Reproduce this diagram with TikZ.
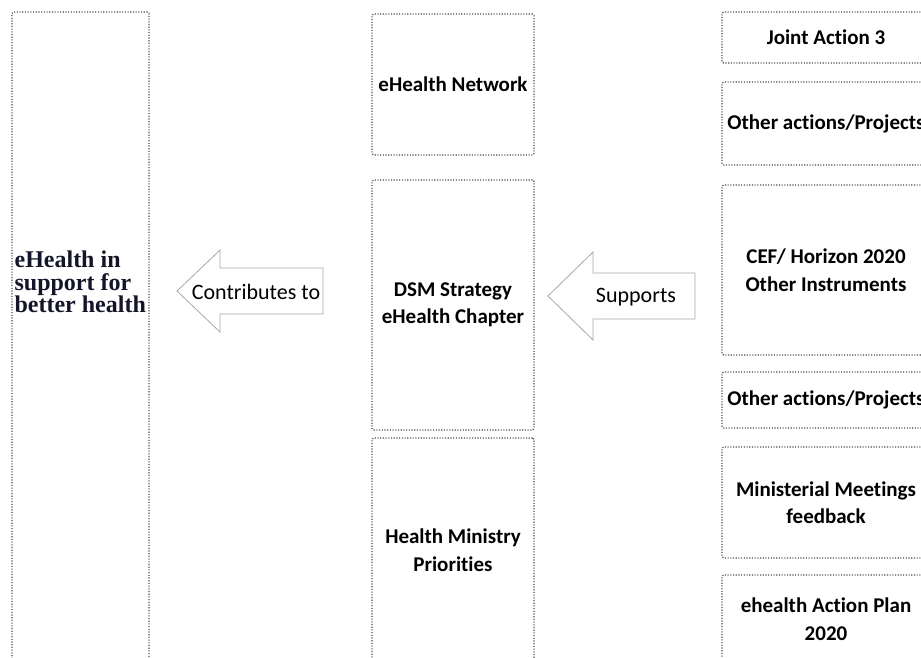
\documentclass[tikz,border=0pt]{standalone}
\usepackage{fontspec}
\setmainfont{Carlito}[RawFeature=-liga]
\newfontfamily\goalfont{Liberation Serif}
\usetikzlibrary{positioning}
\definecolor{boxLine}{HTML}{4A4A4A}
\definecolor{arrowLine}{HTML}{A8A8A8}
\definecolor{goalInk}{HTML}{15152A}

\begin{document}
\begin{tikzpicture}[
    x=1pt, y=-1pt,
    dotbox/.style={rectangle, rounded corners=1.5pt, draw=boxLine,
                 line width=1.2pt, dash pattern=on 1.1pt off 1.6pt,
                 inner sep=0pt, align=center,
                 font=\fontsize{21}{27.5}\selectfont\bfseries},
    goaltext/.style={anchor=west, align=left, inner sep=0pt, text=goalInk,
                 font=\goalfont\fontsize{24}{22.5}\selectfont\bfseries},
    flowlabel/.style={inner sep=0pt, font=\fontsize{22}{26}\selectfont},
    blockarrow/.style={draw=arrowLine, fill=white, line width=0.8pt,
                 line join=miter},
  ]
    \clip (0,0) rectangle (921,657);

    % left column
    \node[dotbox, minimum width=137pt, minimum height=660pt] (goal) at (80.5,342) {};
    \node[goaltext] (goalt) at ([xshift=3pt]goal.west |- 0,282) {eHealth in\\support for\\better health};

    % middle column
    \node[dotbox, minimum width=162pt, minimum height=141pt] (net) at (453,84.5) {eHealth Network};
    \node[dotbox, minimum width=162pt, minimum height=250pt] (dsm) at (453,305) {DSM Strategy\\eHealth Chapter};
    \node[dotbox, minimum width=162pt, minimum height=224pt] (prio) at (453,550) {Health Ministry\\Priorities};

    % right column
    \node[dotbox, minimum width=208pt, minimum height=51pt] (ja) at (826,37.5) {Joint Action 3};
    \node[dotbox, minimum width=208pt, minimum height=83pt] (oth1) at (826,123.5) {Other actions/Projects};
    \node[dotbox, minimum width=208pt, minimum height=170pt] (cef) at (826,270) {CEF/ Horizon 2020\\Other Instruments};
    \node[dotbox, minimum width=208pt, minimum height=56pt] (oth2) at (826,400) {Other actions/Projects};
    \node[dotbox, minimum width=208pt, minimum height=111pt] (mini) at (826,502.5) {Ministerial Meetings\\feedback};
    \node[dotbox, minimum width=208pt, minimum height=88pt] (plan) at (826,619) {ehealth Action Plan\\2020};

    % block arrows
    \draw[blockarrow] (177,291) -- (220,250) -- (220,268) -- (323,268)
      -- (323,314) -- (220,314) -- (220,332) -- cycle;
    \node[flowlabel] (contrib) at (256,292) {Contributes to};

    \draw[blockarrow] (548,296) -- (593,252) -- (593,273) -- (695,273)
      -- (695,319) -- (593,319) -- (593,340) -- cycle;
    \node[flowlabel] (supp) at (636,297) {Supports};
\end{tikzpicture}
\end{document}
